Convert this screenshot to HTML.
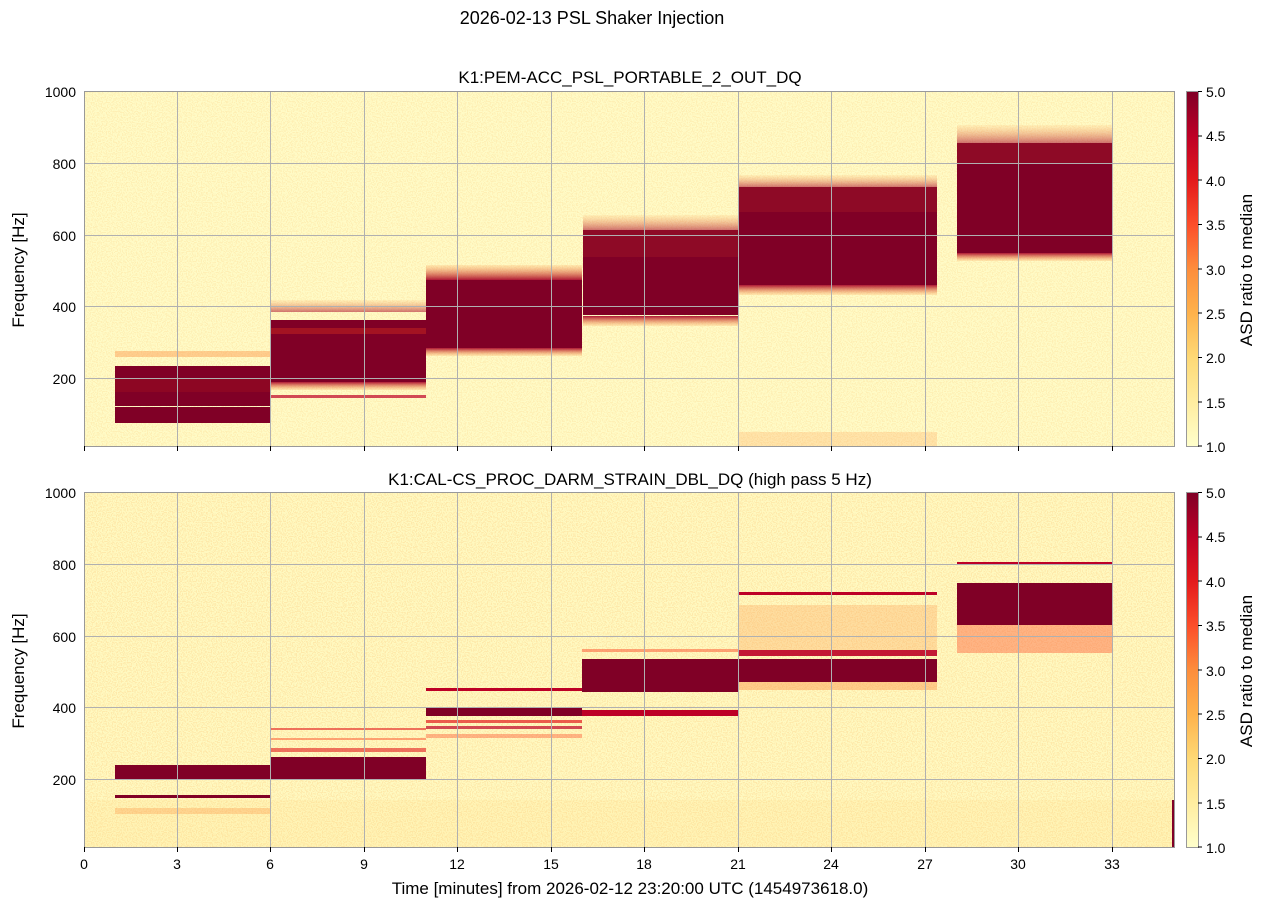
<!DOCTYPE html>
<html><head><meta charset="utf-8"><style>
html,body{margin:0;padding:0;background:#fff;}
svg text{font-family:"Liberation Sans","DejaVu Sans",sans-serif;fill:#000;}
</style></head><body>
<svg width="1267" height="909" viewBox="0 0 1267 909" xmlns="http://www.w3.org/2000/svg">
<defs>
<filter id="spk" x="0" y="0" width="100%" height="100%">
<feTurbulence type="fractalNoise" baseFrequency="0.8" numOctaves="1" seed="3"/>
<feColorMatrix type="matrix" values="0 0 0 0 0.99  0 0 0 0 0.7  0 0 0 0 0.3  0 0 0 -12 6.2"/>
</filter>
<linearGradient id="cb" x1="0" y1="1" x2="0" y2="0">
<stop offset="0" stop-color="#ffffcc"/><stop offset="0.125" stop-color="#ffeda0"/>
<stop offset="0.25" stop-color="#fed976"/><stop offset="0.375" stop-color="#feb24c"/>
<stop offset="0.5" stop-color="#fd8d3c"/><stop offset="0.625" stop-color="#fc4e2a"/>
<stop offset="0.75" stop-color="#e31a1c"/><stop offset="0.875" stop-color="#bd0026"/>
<stop offset="1" stop-color="#800026"/>
</linearGradient>
<linearGradient id="fadeT" x1="0" y1="0" x2="0" y2="1"><stop offset="0" stop-color="#fd8d3c" stop-opacity="0.15"/><stop offset="1" stop-color="#a50026" stop-opacity="0.9"/></linearGradient>
<linearGradient id="fadeB" x1="0" y1="0" x2="0" y2="1"><stop offset="0" stop-color="#a50026" stop-opacity="0.9"/><stop offset="1" stop-color="#fd8d3c" stop-opacity="0.15"/></linearGradient>
</defs>

<text x="592" y="24" font-size="18" text-anchor="middle">2026-02-13 PSL Shaker Injection</text>

<!-- TOP PANEL -->
<text x="630" y="83" font-size="17" text-anchor="middle">K1:PEM-ACC_PSL_PORTABLE_2_OUT_DQ</text>
<rect x="84" y="91" width="1091" height="355" fill="#fffbc6"/>
<rect x="84" y="91" width="1091" height="355" filter="url(#spk)" opacity="0.35"/>
<g fill="#800026">
<!-- b1 -->
<rect x="115" y="351" width="156" height="6" fill="#fd8d3c" opacity="0.4"/>
<rect x="115" y="366" width="156" height="40"/>
<rect x="115" y="407" width="156" height="16"/>
<rect x="115" y="378" width="156" height="14" fill="#a01020" opacity="0.4"/>
<!-- b2 -->
<rect x="271" y="300" width="155" height="12" fill="url(#fadeT)" opacity="0.6"/>
<rect x="271" y="320" width="155" height="62"/>
<rect x="271" y="382" width="155" height="8" fill="url(#fadeB)"/>
<rect x="271" y="395" width="155" height="3" fill="#bd0026" opacity="0.7"/>
<rect x="271" y="328" width="155" height="6" fill="#d7301f" opacity="0.4"/>
<!-- b3 -->
<rect x="426" y="265" width="156" height="15" fill="url(#fadeT)"/>
<rect x="426" y="280" width="156" height="68"/>
<rect x="426" y="348" width="156" height="8" fill="url(#fadeB)"/>
<!-- b4 -->
<rect x="583" y="215" width="155" height="15" fill="url(#fadeT)" opacity="0.6"/>
<rect x="583" y="230" width="155" height="27" fill="#8e0a26"/>
<rect x="583" y="257" width="155" height="58"/>
<rect x="583" y="316" width="155" height="10" fill="url(#fadeB)"/>
<!-- b5 -->
<rect x="739" y="175" width="198" height="12" fill="url(#fadeT)" opacity="0.6"/>
<rect x="739" y="187" width="198" height="25" fill="#8e0a26"/>
<rect x="739" y="212" width="198" height="73"/>
<rect x="739" y="285" width="198" height="10" fill="url(#fadeB)"/>
<rect x="739" y="432" width="198" height="14" fill="#fd8d3c" opacity="0.2"/>
<!-- b6 -->
<rect x="957" y="125" width="156" height="18" fill="url(#fadeT)" opacity="0.6"/>
<rect x="957" y="143" width="156" height="20" fill="#8e0a26"/>
<rect x="957" y="163" width="156" height="90"/>
<rect x="957" y="253" width="156" height="8" fill="url(#fadeB)"/>
</g>
<g stroke="#b0b0b0" stroke-width="1">
<line x1="177.5" y1="91" x2="177.5" y2="446"/><line x1="270.5" y1="91" x2="270.5" y2="446"/><line x1="364.5" y1="91" x2="364.5" y2="446"/><line x1="457.5" y1="91" x2="457.5" y2="446"/><line x1="551.5" y1="91" x2="551.5" y2="446"/><line x1="644.5" y1="91" x2="644.5" y2="446"/><line x1="738.5" y1="91" x2="738.5" y2="446"/><line x1="831.5" y1="91" x2="831.5" y2="446"/><line x1="925.5" y1="91" x2="925.5" y2="446"/><line x1="1018.5" y1="91" x2="1018.5" y2="446"/><line x1="1112.5" y1="91" x2="1112.5" y2="446"/>
<line x1="84" y1="163.5" x2="1175" y2="163.5"/><line x1="84" y1="235.5" x2="1175" y2="235.5"/><line x1="84" y1="306.5" x2="1175" y2="306.5"/><line x1="84" y1="378.5" x2="1175" y2="378.5"/>
</g>
<rect x="84.5" y="91.5" width="1090" height="355" fill="none" stroke="#999"/>
<g font-size="14" text-anchor="end">
<text x="76" y="97">1000</text><text x="76" y="169">800</text><text x="76" y="241">600</text><text x="76" y="312">400</text><text x="76" y="384">200</text>
</g>
<text transform="translate(24,270) rotate(-90)" font-size="17" text-anchor="middle">Frequency [Hz]</text>

<!-- BOTTOM PANEL -->
<text x="630" y="485" font-size="17" text-anchor="middle">K1:CAL-CS_PROC_DARM_STRAIN_DBL_DQ (high pass 5 Hz)</text>
<rect x="84" y="492" width="1091" height="355" fill="#fff9c0"/>
<rect x="84" y="492" width="1091" height="355" filter="url(#spk)" opacity="0.5"/>
<rect x="84" y="800" width="1091" height="47" fill="#fed976" opacity="0.15"/>
<g fill="#800026">
<rect x="115" y="765" width="156" height="14"/>
<rect x="115" y="795" width="156" height="3"/>
<rect x="115" y="808" width="156" height="6" fill="#fd8d3c" opacity="0.3"/>
<rect x="271" y="757" width="155" height="23"/>
<rect x="271" y="748" width="155" height="4" fill="#e31a1c" opacity="0.6"/>
<rect x="271" y="738" width="155" height="2" fill="#fc4e2a" opacity="0.5"/>
<rect x="271" y="728" width="155" height="2" fill="#e31a1c" opacity="0.6"/>
<rect x="426" y="688" width="156" height="3" fill="#bd0026"/>
<rect x="426" y="708" width="156" height="8"/>
<rect x="426" y="720" width="156" height="3" fill="#e31a1c" opacity="0.7"/>
<rect x="426" y="726" width="156" height="3" fill="#bd0026" opacity="0.7"/>
<rect x="426" y="734" width="156" height="4" fill="#fc4e2a" opacity="0.4"/>
<rect x="582" y="649" width="156" height="3" fill="#fc4e2a" opacity="0.5"/>
<rect x="582" y="659" width="156" height="33"/>
<rect x="582" y="710" width="156" height="6" fill="#bd0026"/>
<rect x="738" y="592" width="199" height="3" fill="#bd0026"/>
<rect x="738" y="605" width="199" height="45" fill="#fd8d3c" opacity="0.25"/>
<rect x="738" y="650" width="199" height="6" fill="#bd0026" opacity="0.9"/>
<rect x="738" y="659" width="199" height="23"/>
<rect x="738" y="682" width="199" height="8" fill="#fd8d3c" opacity="0.4"/>
<rect x="957" y="562" width="156" height="3" fill="#bd0026"/>
<rect x="957" y="583" width="156" height="42"/>
<rect x="957" y="625" width="156" height="28" fill="#fc4e2a" opacity="0.4"/>
<rect x="1172" y="800" width="3" height="47"/>
</g>
<g stroke="#b0b0b0" stroke-width="1">
<line x1="177.5" y1="492" x2="177.5" y2="847"/><line x1="270.5" y1="492" x2="270.5" y2="847"/><line x1="364.5" y1="492" x2="364.5" y2="847"/><line x1="457.5" y1="492" x2="457.5" y2="847"/><line x1="551.5" y1="492" x2="551.5" y2="847"/><line x1="644.5" y1="492" x2="644.5" y2="847"/><line x1="738.5" y1="492" x2="738.5" y2="847"/><line x1="831.5" y1="492" x2="831.5" y2="847"/><line x1="925.5" y1="492" x2="925.5" y2="847"/><line x1="1018.5" y1="492" x2="1018.5" y2="847"/><line x1="1112.5" y1="492" x2="1112.5" y2="847"/>
<line x1="84" y1="564.5" x2="1175" y2="564.5"/><line x1="84" y1="636.5" x2="1175" y2="636.5"/><line x1="84" y1="707.5" x2="1175" y2="707.5"/><line x1="84" y1="779.5" x2="1175" y2="779.5"/>
</g>
<rect x="84.5" y="492.5" width="1090" height="355" fill="none" stroke="#999"/>
<g font-size="14" text-anchor="end">
<text x="76" y="498">1000</text><text x="76" y="570">800</text><text x="76" y="642">600</text><text x="76" y="713">400</text><text x="76" y="785">200</text>
</g>
<text transform="translate(24,671) rotate(-90)" font-size="17" text-anchor="middle">Frequency [Hz]</text>

<!-- x ticks -->
<g stroke="#000" stroke-width="1">
<path d="M84.5 446v5M177.5 446v5M270.5 446v5M364.5 446v5M457.5 446v5M551.5 446v5M644.5 446v5M738.5 446v5M831.5 446v5M925.5 446v5M1018.5 446v5M1112.5 446v5"/>
<path d="M84.5 847v5M177.5 847v5M270.5 847v5M364.5 847v5M457.5 847v5M551.5 847v5M644.5 847v5M738.5 847v5M831.5 847v5M925.5 847v5M1018.5 847v5M1112.5 847v5"/>
</g>
<g font-size="14" text-anchor="middle">
<text x="84" y="869">0</text><text x="177" y="869">3</text><text x="270" y="869">6</text><text x="364" y="869">9</text><text x="457" y="869">12</text><text x="551" y="869">15</text><text x="644" y="869">18</text><text x="738" y="869">21</text><text x="831" y="869">24</text><text x="925" y="869">27</text><text x="1018" y="869">30</text><text x="1112" y="869">33</text>
</g>
<text x="630" y="894" font-size="17" text-anchor="middle">Time [minutes] from 2026-02-12 23:20:00 UTC (1454973618.0)</text>

<!-- colorbars -->
<rect x="1186.5" y="91.5" width="12" height="355" fill="url(#cb)" stroke="#999"/>
<rect x="1186.5" y="492.5" width="12" height="355" fill="url(#cb)" stroke="#999"/>
<g font-size="14">
<text x="1206" y="97">5.0</text><text x="1206" y="141">4.5</text><text x="1206" y="186">4.0</text><text x="1206" y="230">3.5</text><text x="1206" y="275">3.0</text><text x="1206" y="319">2.5</text><text x="1206" y="363">2.0</text><text x="1206" y="408">1.5</text><text x="1206" y="452">1.0</text>
<text x="1206" y="498">5.0</text><text x="1206" y="542">4.5</text><text x="1206" y="587">4.0</text><text x="1206" y="631">3.5</text><text x="1206" y="676">3.0</text><text x="1206" y="720">2.5</text><text x="1206" y="764">2.0</text><text x="1206" y="809">1.5</text><text x="1206" y="853">1.0</text>
</g>
<g stroke="#000"><path d="M1198 91.5h4M1198 136h4M1198 180h4M1198 224.5h4M1198 269h4M1198 313h4M1198 357.5h4M1198 402h4M1198 446h4M1198 492.5h4M1198 537h4M1198 581h4M1198 625.5h4M1198 670h4M1198 714h4M1198 758.5h4M1198 803h4M1198 847h4"/></g>
<text transform="translate(1252,270) rotate(-90)" font-size="17" text-anchor="middle">ASD ratio to median</text>
<text transform="translate(1252,671) rotate(-90)" font-size="17" text-anchor="middle">ASD ratio to median</text>
</svg>
</body></html>
